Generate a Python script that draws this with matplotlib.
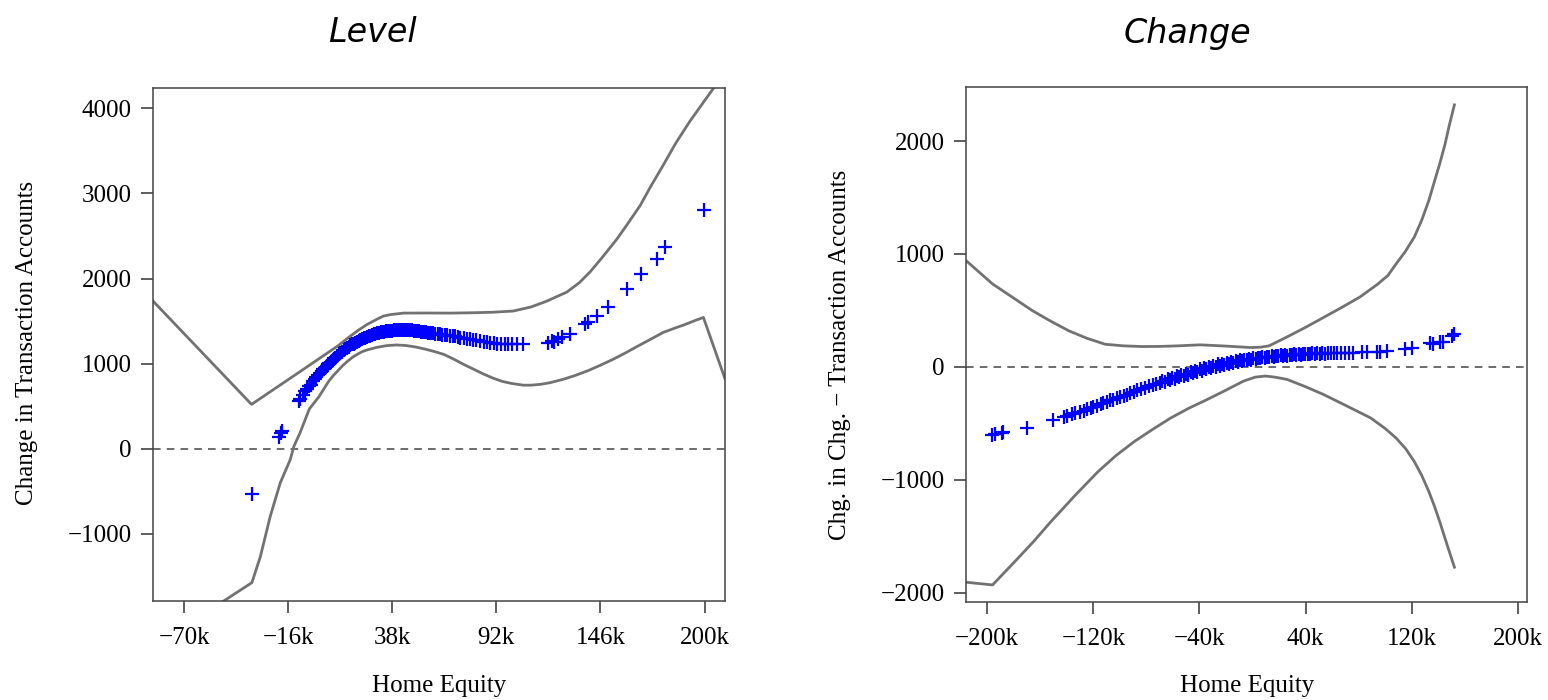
import numpy as np
import matplotlib.pyplot as plt

plt.rcParams['font.family'] = 'Liberation Serif'

W, H = 1548, 700

# --- Level panel: home equity (k) vs change in transaction accounts ---
lvl_x_ticks = [-70, -16, 38, 92, 146, 200]
lvl_x_labels = ['\u221270k', '\u221216k', '38k', '92k', '146k', '200k']
lvl_y_ticks = [-1000, 0, 1000, 2000, 3000, 4000]
lvl_y_labels = ['\u22121000', '0', '1000', '2000', '3000', '4000']

lvl_upper_x = [-86.1, -35.0, -9.6, 9.6, 15.0, 20.0, 25.0, 30.0, 33.4, 37.0, 43.8,
               55.0, 68.1, 80.0, 90.0, 100.7, 110.0, 118.3, 128.6, 135.0, 140.6,
               147.0, 154.6, 160.0, 166.5, 172.0, 178.4, 185.0, 192.3, 205.3, 210.6]
lvl_upper_y = [1735, 519, 908, 1204, 1300, 1385, 1460, 1520, 1558, 1575, 1593,
               1594, 1593, 1597, 1603, 1617, 1665, 1735, 1841, 1950, 2077,
               2250, 2466, 2640, 2855, 3080, 3327, 3590, 3847, 4260, 4420]

lvl_lower_x = [-60.0, -34.8, -30.4, -25.3, -20.1, -14.9, -13.0, -10.0, -5.0, 0.0,
               2.5, 5.0, 7.5, 10.0, 12.5, 15.0, 17.5, 20.0, 22.5, 25.0, 30.0, 35.0,
               40.0, 45.0, 50.0, 55.0, 60.0, 65.0, 70.0, 75.0, 80.0, 85.0, 90.0,
               95.0, 100.0, 106.0, 110.0, 115.0, 120.0, 126.7, 133.0, 140.0, 146.0,
               152.6, 159.0, 165.0, 172.0, 178.5, 185.0, 190.0, 195.0, 199.4, 210.6]
lvl_lower_y = [-1950, -1578, -1271, -799, -405, -130, 27, 175, 465, 610,
               700, 790, 860, 920, 980, 1030, 1075, 1110, 1140, 1160, 1190, 1210,
               1218, 1212, 1195, 1170, 1140, 1105, 1050, 990, 935, 880, 830,
               790, 765, 745, 745, 755, 775, 814, 860, 920, 980,
               1050, 1125, 1200, 1285, 1365, 1420, 1460, 1505, 1542, 820]

lvl_pts_x = [-34.8, -20.8, -19.9, -19.1, -10.5, -9.6, -8.3, -7.0, -6.1, -5.3, -4.4,
             -3.1, -2.2, -1.3, -0.4, 0.6, 1.5, 2.3, 3.2, 4.1, 4.9, 5.8, 6.7, 7.6,
             8.4, 9.3, 10.2, 11.0, 11.9, 12.8, 13.6, 14.5, 15.4, 16.3, 17.1, 18.0,
             18.9, 19.8, 20.6, 21.5, 22.4, 23.2, 24.1, 25.0, 25.9, 26.7, 27.6,
             28.5, 29.3, 30.2, 31.1, 32.0, 32.8, 33.7, 34.6, 35.4, 36.3, 37.2,
             38.1, 38.9, 39.8, 40.7, 41.5, 42.4, 43.3, 44.2, 45.0, 45.9, 46.8,
             47.6, 48.5, 49.4, 50.3, 51.1, 52.0, 52.9, 53.7, 54.6, 55.5, 56.4,
             57.3, 58.3, 59.2, 60.3, 61.5, 62.8, 63.9, 65.2, 66.4, 67.9, 69.3,
             70.6, 72.1, 73.4, 75.0, 76.7, 78.1, 79.8, 81.5, 83.6, 85.7, 87.4,
             88.8, 90.6, 92.5, 94.6, 96.3, 98.1, 100.2, 102.6, 105.8,
             119.0, 120.7, 122.0, 124.1, 125.9, 130.2, 138.0, 139.7, 144.0, 150.0,
             159.9, 166.8, 175.1, 179.4, 199.6]
lvl_pts_y = [-535, 140, 185, 210, 558, 585, 630, 676, 700, 735, 745,
             790, 815, 838, 862, 889, 912, 932, 952, 973, 990, 1010, 1030, 1050,
             1068, 1086, 1106, 1124, 1140, 1156, 1171, 1185, 1199, 1212, 1224, 1235,
             1242, 1254, 1266, 1276, 1286, 1295, 1304, 1312, 1320, 1328, 1335,
             1342, 1349, 1355, 1360, 1365, 1370, 1374, 1377, 1380, 1383, 1385,
             1387, 1389, 1391, 1392, 1393, 1394, 1395, 1395, 1395, 1394, 1393,
             1391, 1389, 1386, 1384, 1381, 1378, 1376, 1373, 1370, 1367, 1364,
             1360, 1357, 1353, 1350, 1347, 1344, 1341, 1337, 1333, 1328, 1323,
             1318, 1312, 1305, 1298, 1292, 1286, 1280, 1273, 1265, 1257, 1251,
             1246, 1240, 1235, 1231, 1228, 1226, 1225, 1226, 1232,
             1247, 1266, 1258, 1286, 1306, 1345, 1470, 1490, 1561, 1670,
             1876, 2053, 2230, 2368, 2800]

# --- Change panel ---
chg_x_ticks = [-200, -120, -40, 40, 120, 200]
chg_x_labels = ['\u2212200k', '\u2212120k', '\u221240k', '40k', '120k', '200k']
chg_y_ticks = [-2000, -1000, 0, 1000, 2000]
chg_y_labels = ['\u22122000', '\u22121000', '0', '1000', '2000']

chg_upper_x = [-215.9, -195.9, -180.0, -165.8, -152.0, -138.4, -125.0, -111.0, -97.0,
               -83.6, -70.0, -56.2, -39.7, -23.3, -10.0, -1.4, 6.0, 12.4, 25.0,
               39.8, 53.0, 67.2, 81.0, 94.5, 102.0, 108.2, 115.0, 121.9, 127.5,
               132.9, 137.0, 141.1, 145.0, 148.0, 152.1]
chg_upper_y = [942, 735, 610, 498, 405, 320, 255, 201, 187,
               181, 182, 187, 196, 187, 178, 172, 175, 187, 260,
               350, 435, 527, 620, 735, 810, 913, 1020, 1150, 1300,
               1476, 1640, 1801, 1970, 2127, 2320]

chg_lower_x = [-215.9, -195.9, -179.5, -165.0, -152.1, -134.0, -116.4, -103.0, -89.0,
               -75.0, -61.6, -48.0, -34.2, -20.0, -6.8, 2.0, 9.6, 17.0, 26.0,
               40.0, 53.4, 71.0, 89.0, 100.0, 108.2, 115.5, 121.9, 127.5, 132.9,
               137.0, 141.1, 146.5, 152.1]
chg_lower_y = [-1905, -1929, -1727, -1545, -1371, -1140, -926, -785, -659,
               -550, -451, -365, -288, -205, -125, -90, -80, -90, -110,
               -175, -243, -345, -451, -545, -629, -725, -837, -960, -1104,
               -1230, -1371, -1570, -1772]

chg_pts_x = [-196.5, -194.0, -189.0, -187.8, -170.2, -150.1, -142.0, -140.0, -136.0,
             -133.8, -130.0, -127.0, -125.0, -122.0, -120.0, -117.0, -114.5, -112.5,
             -110.0, -107.4, -105.0, -102.0, -99.9, -97.0, -94.8, -92.0, -89.5,
             -87.3, -84.0, -81.0, -78.0, -74.8, -72.5, -70.0, -68.2, -66.1, -64.0,
             -62.3, -60.5, -58.8, -57.0, -55.2, -53.6, -51.9, -50.1, -48.4, -46.7,
             -45.0, -43.2, -41.6, -39.8, -38.1, -36.5, -34.7, -33.0, -31.4, -29.6,
             -27.9, -26.2, -24.6, -22.9, -21.2, -19.5, -17.8, -16.1, -14.5, -12.8,
             -11.1, -9.4, -7.8, -6.1, -4.4, -2.7, -1.0, 0.7, 2.4, 4.1, 5.8, 7.5,
             9.2, 10.9, 12.6, 14.3, 16.0, 17.7, 19.4, 21.1, 22.8, 24.5, 26.2, 27.9,
             29.6, 31.3, 33.0, 34.7, 36.4, 38.1, 39.8, 41.5, 43.2, 45.0, 46.8, 48.7,
             50.6, 52.5, 54.6, 56.8, 59.0, 61.4, 63.9, 66.5, 69.3, 72.4, 76.0,
             82.2, 86.0, 93.5, 96.0, 101.0, 114.8, 119.8, 133.6, 136.0, 141.1,
             143.5, 150.0, 152.0]
chg_pts_y = [-600, -590, -585, -575, -540, -470, -445, -430, -420,
             -410, -395, -388, -375, -365, -355, -342, -328, -318,
             -306, -292, -288, -272, -262, -255, -246, -232, -222,
             -205, -196, -186, -170, -160, -150, -145, -128, -130, -110,
             -115, -95, -102, -82, -92, -70, -78, -58, -68, -45,
             -55, -33, -45, -22, -32, -10, -20, 2, -8, 12,
             2, 22, 10, 30, 20, 38, 28, 45, 35, 52,
             42, 60, 50, 66, 58, 72, 64, 78, 70, 83, 76, 88,
             81, 92, 86, 96, 90, 100, 94, 103, 98, 106, 101, 109,
             104, 112, 107, 114, 110, 116, 112, 118, 114, 120, 116, 121,
             118, 122, 119, 123, 121, 124, 122, 125, 123, 125, 126,
             135, 132, 135, 137, 138, 157, 165, 210, 205, 224,
             222, 270, 290]


def style_axes(ax, xticks, xlabels, yticks, ylabels, xlim, ylim):
    ax.set_xlim(xlim)
    ax.set_ylim(ylim)
    ax.set_xticks(xticks)
    ax.set_xticklabels(xlabels)
    ax.set_yticks(yticks)
    ax.set_yticklabels(ylabels)
    ax.tick_params(axis='both', direction='out', length=8.5, width=1.1, color='#333333',
                   labelsize=18, pad=7)
    ax.tick_params(axis='x', pad=10)
    for s in ax.spines.values():
        s.set_color('#444444')
        s.set_linewidth(1.1)
    ax.axhline(0, color='#444444', lw=1.1, linestyle=(0, (5, 4)), zorder=1)


def draw_panel(ax, up_x, up_y, lo_x, lo_y, px, py):
    ax.plot(up_x, up_y, color='#727272', lw=2.0, zorder=2)
    ax.plot(lo_x, lo_y, color='#727272', lw=2.0, zorder=2)
    ax.plot(px, py, linestyle='none', marker='+', color='#0000ff',
            markersize=9.5, markeredgewidth=1.6, zorder=3)


fig = plt.figure(figsize=(W / 100, H / 100), dpi=100)

ax1 = fig.add_axes([153 / W, 1 - 601 / H, (725 - 153) / W, (601 - 87.5) / H])
draw_panel(ax1, lvl_upper_x, lvl_upper_y, lvl_lower_x, lvl_lower_y, lvl_pts_x, lvl_pts_y)
style_axes(ax1, lvl_x_ticks, lvl_x_labels, lvl_y_ticks, lvl_y_labels,
           (-86.1, 210.6), (-1794, 4247))

ax2 = fig.add_axes([966 / W, 1 - 602 / H, (1527 - 966) / W, (602 - 87) / H])
draw_panel(ax2, chg_upper_x, chg_upper_y, chg_lower_x, chg_lower_y, chg_pts_x, chg_pts_y)
style_axes(ax2, chg_x_ticks, chg_x_labels, chg_y_ticks, chg_y_labels,
           (-215.9, 206.8), (-2080, 2478))

# titles and labels
title_kw = dict(fontsize=24, style='italic', family='DejaVu Sans', ha='center', va='center')
fig.text(372 / W, 1 - 33 / H, 'Level', **title_kw)
fig.text(1187 / W, 1 - 33 / H, 'Change', **title_kw)

fig.text(439 / W, 1 - 686 / H, 'Home Equity', fontsize=18, ha='center', va='center')
fig.text(1247 / W, 1 - 686 / H, 'Home Equity', fontsize=18, ha='center', va='center')
fig.text(27 / W, 1 - 343 / H, 'Change in Transaction Accounts', fontsize=18,
         rotation=90, ha='center', va='center')
fig.text(840 / W, 1 - 355 / H, 'Chg. in Chg. \u2212 Transaction Accounts', fontsize=18,
         rotation=90, ha='center', va='center')

plt.savefig('out.png', dpi=100)
plt.close()
